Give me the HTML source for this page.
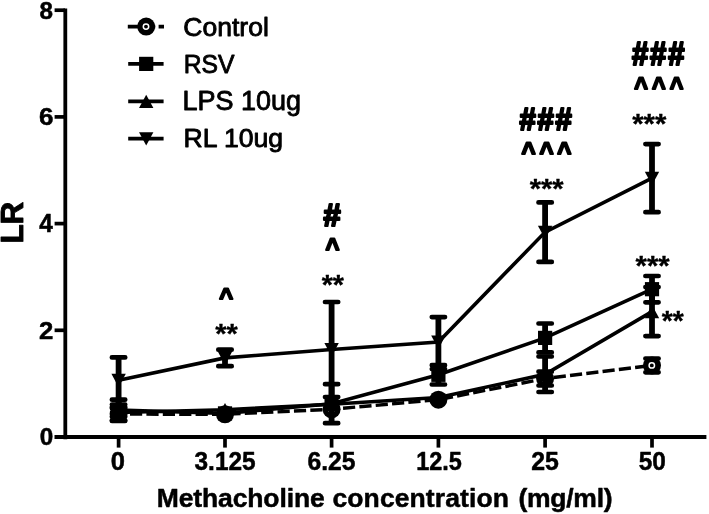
<!DOCTYPE html>
<html><head><meta charset="utf-8"><title>LR vs Methacholine concentration</title>
<style>
html,body{margin:0;padding:0;background:#fff;}
body{width:709px;height:514px;overflow:hidden;}
svg{display:block;}
text{font-family:"Liberation Sans",Arial,Helvetica,sans-serif;fill:#000;stroke-linejoin:round;}
</style></head><body>
<svg width="709" height="514" viewBox="0 0 709 514">
<defs><filter id="soft" x="0" y="0" width="709" height="514" filterUnits="userSpaceOnUse"><feGaussianBlur stdDeviation="0.45"/></filter></defs>
<rect width="709" height="514" fill="#fff"/>
<g filter="url(#soft)">
<rect width="709" height="514" fill="#fff"/>
<g id="axes">
<path d="M65.3 8.4V439.2" stroke="#000" stroke-width="3.8" fill="none"/>
<path d="M54.5 437H706.4" stroke="#000" stroke-width="3.8" fill="none"/>
<path d="M54.6 330.3H65" stroke="#000" stroke-width="3.7" fill="none"/>
<path d="M54.6 223.6H65" stroke="#000" stroke-width="3.7" fill="none"/>
<path d="M54.6 116.9H65" stroke="#000" stroke-width="3.7" fill="none"/>
<path d="M54.6 10.2H65" stroke="#000" stroke-width="3.7" fill="none"/>
<path d="M118.6 437V447.6" stroke="#000" stroke-width="3.7" fill="none"/>
<path d="M225.0 437V447.6" stroke="#000" stroke-width="3.7" fill="none"/>
<path d="M331.6 437V447.6" stroke="#000" stroke-width="3.7" fill="none"/>
<path d="M438.4 437V447.6" stroke="#000" stroke-width="3.7" fill="none"/>
<path d="M545.1 437V447.6" stroke="#000" stroke-width="3.7" fill="none"/>
<path d="M652.0 437V447.6" stroke="#000" stroke-width="3.7" fill="none"/>
</g>
<g id="data">
<path d="M118.6 414.1 L225.0 414.3 L331.6 409.3 L438.4 399.7 L545.1 378.6 L652.0 365.4" stroke="#000" stroke-width="3.4" fill="none" stroke-dasharray="12.2 4.2" stroke-dashoffset="5"/>
<path d="M118.6 407.1V421.0" stroke="#000" stroke-width="5.8" fill="none"/><path d="M111.9 407.1H125.2M111.9 421.0H125.2" stroke="#000" stroke-width="4.7" stroke-linecap="round" fill="none"/>
<path d="M545.1 371.7V385.5" stroke="#000" stroke-width="5.8" fill="none"/><path d="M538.5 371.7H551.8M538.5 385.5H551.8" stroke="#000" stroke-width="4.7" stroke-linecap="round" fill="none"/>
<path d="M652.0 358.5V372.3" stroke="#000" stroke-width="5.8" fill="none"/><path d="M645.4 358.5H658.6M645.4 372.3H658.6" stroke="#000" stroke-width="4.7" stroke-linecap="round" fill="none"/>
<circle cx="118.6" cy="414.1" r="9" fill="#000"/><circle cx="118.4" cy="414.1" r="2.7" fill="#000" stroke="#fff" stroke-width="1.5"/>
<circle cx="225.0" cy="414.3" r="9" fill="#000"/><circle cx="224.8" cy="414.3" r="2.7" fill="#000" stroke="#fff" stroke-width="1.5"/>
<circle cx="331.6" cy="409.3" r="9" fill="#000"/><circle cx="331.4" cy="409.3" r="2.7" fill="#000" stroke="#fff" stroke-width="1.5"/>
<circle cx="438.4" cy="399.7" r="9" fill="#000"/><circle cx="438.2" cy="399.7" r="2.7" fill="#000" stroke="#fff" stroke-width="1.5"/>
<circle cx="545.1" cy="378.6" r="9" fill="#000"/><circle cx="544.9" cy="378.6" r="2.7" fill="#000" stroke="#fff" stroke-width="1.5"/>
<circle cx="652.0" cy="365.4" r="9" fill="#000"/><circle cx="651.8" cy="365.4" r="2.7" fill="#000" stroke="#fff" stroke-width="1.5"/>
<path d="M118.6 412.5 L225.0 409.7 L331.6 404.2 L438.4 397.5 L545.1 374.3 L652.0 311.6" stroke="#000" stroke-width="3.6" fill="none"/>
<path d="M118.6 408.2V416.7" stroke="#000" stroke-width="5.8" fill="none"/><path d="M111.9 408.2H125.2M111.9 416.7H125.2" stroke="#000" stroke-width="4.7" stroke-linecap="round" fill="none"/>
<path d="M545.1 356.5V392.0" stroke="#000" stroke-width="5.8" fill="none"/><path d="M538.5 356.5H551.8M538.5 392.0H551.8" stroke="#000" stroke-width="4.7" stroke-linecap="round" fill="none"/>
<path d="M652.0 287.1V336.1" stroke="#000" stroke-width="5.8" fill="none"/><path d="M645.4 287.1H658.6M645.4 336.1H658.6" stroke="#000" stroke-width="4.7" stroke-linecap="round" fill="none"/>
<polygon points="111.4,419.2 125.8,419.2 118.6,405.8" fill="#000"/>
<polygon points="217.8,416.4 232.2,416.4 225.0,403.0" fill="#000"/>
<polygon points="324.4,410.9 338.8,410.9 331.6,397.5" fill="#000"/>
<polygon points="431.2,404.2 445.6,404.2 438.4,390.8" fill="#000"/>
<polygon points="537.9,381.0 552.3,381.0 545.1,367.6" fill="#000"/>
<polygon points="644.8,318.3 659.2,318.3 652.0,304.9" fill="#000"/>
<path d="M118.6 410.0 L225.0 413.4 L331.6 403.7 L438.4 374.8 L545.1 337.9 L652.0 289.2" stroke="#000" stroke-width="3.6" fill="none"/>
<path d="M118.6 399.7V420.3" stroke="#000" stroke-width="5.8" fill="none"/><path d="M111.9 399.7H125.2M111.9 420.3H125.2" stroke="#000" stroke-width="4.7" stroke-linecap="round" fill="none"/>
<path d="M331.6 384.2V423.2" stroke="#000" stroke-width="5.8" fill="none"/><path d="M325.0 384.2H338.2M325.0 423.2H338.2" stroke="#000" stroke-width="4.7" stroke-linecap="round" fill="none"/>
<path d="M438.4 365.2V384.5" stroke="#000" stroke-width="5.8" fill="none"/><path d="M431.8 365.2H445.0M431.8 384.5H445.0" stroke="#000" stroke-width="4.7" stroke-linecap="round" fill="none"/>
<path d="M545.1 323.5V352.4" stroke="#000" stroke-width="5.8" fill="none"/><path d="M538.5 323.5H551.8M538.5 352.4H551.8" stroke="#000" stroke-width="4.7" stroke-linecap="round" fill="none"/>
<path d="M652.0 276.0V302.3" stroke="#000" stroke-width="5.8" fill="none"/><path d="M645.4 276.0H658.6M645.4 302.3H658.6" stroke="#000" stroke-width="4.7" stroke-linecap="round" fill="none"/>
<rect x="111.5" y="402.9" width="14.2" height="14.2" fill="#000"/>
<rect x="217.9" y="406.3" width="14.2" height="14.2" fill="#000"/>
<rect x="324.5" y="396.6" width="14.2" height="14.2" fill="#000"/>
<rect x="431.3" y="367.7" width="14.2" height="14.2" fill="#000"/>
<rect x="538.0" y="330.8" width="14.2" height="14.2" fill="#000"/>
<rect x="644.9" y="282.1" width="14.2" height="14.2" fill="#000"/>
<path d="M118.6 380.2 L225.0 357.9 L331.6 349.5 L438.4 342.0 L545.1 232.1 L652.0 178.1" stroke="#000" stroke-width="3.6" fill="none"/>
<path d="M118.6 357.4V404.6" stroke="#000" stroke-width="5.8" fill="none"/><path d="M111.9 357.4H125.2M111.9 404.6H125.2" stroke="#000" stroke-width="4.7" stroke-linecap="round" fill="none"/>
<path d="M225.0 349.7V366.2" stroke="#000" stroke-width="5.8" fill="none"/><path d="M218.3 349.7H231.7M218.3 366.2H231.7" stroke="#000" stroke-width="4.7" stroke-linecap="round" fill="none"/>
<path d="M331.6 302.0V397.0" stroke="#000" stroke-width="5.8" fill="none"/><path d="M325.0 302.0H338.2M325.0 397.0H338.2" stroke="#000" stroke-width="4.7" stroke-linecap="round" fill="none"/>
<path d="M438.4 317.1V369.0" stroke="#000" stroke-width="5.8" fill="none"/><path d="M431.8 317.1H445.0M431.8 369.0H445.0" stroke="#000" stroke-width="4.7" stroke-linecap="round" fill="none"/>
<path d="M545.1 202.4V261.9" stroke="#000" stroke-width="5.8" fill="none"/><path d="M538.5 202.4H551.8M538.5 261.9H551.8" stroke="#000" stroke-width="4.7" stroke-linecap="round" fill="none"/>
<path d="M652.0 144.1V212.2" stroke="#000" stroke-width="5.8" fill="none"/><path d="M645.4 144.1H658.6M645.4 212.2H658.6" stroke="#000" stroke-width="4.7" stroke-linecap="round" fill="none"/>
<polygon points="111.4,373.8 125.8,373.8 118.6,387.2" fill="#000"/>
<polygon points="217.8,351.5 232.2,351.5 225.0,364.9" fill="#000"/>
<polygon points="324.4,343.1 338.8,343.1 331.6,356.5" fill="#000"/>
<polygon points="431.2,335.6 445.6,335.6 438.4,349.0" fill="#000"/>
<polygon points="537.9,225.7 552.3,225.7 545.1,239.1" fill="#000"/>
<polygon points="644.8,171.7 659.2,171.7 652.0,185.1" fill="#000"/>
</g>
<g id="labels">
<text transform="translate(39.42 18.51) scale(1.0048 1)" style="font-size:24.08px;font-weight:bold;stroke:#000;stroke-width:0.5px">8</text>
<text transform="translate(39.11 124.80) scale(1.0626 1)" style="font-size:24.51px;font-weight:bold;stroke:#000;stroke-width:0.5px">6</text>
<text transform="translate(39.26 232.05) scale(0.9652 1)" style="font-size:25.22px;font-weight:bold;stroke:#000;stroke-width:0.5px">4</text>
<text transform="translate(39.08 338.55) scale(1.0651 1)" style="font-size:24.14px;font-weight:bold;stroke:#000;stroke-width:0.5px">2</text>
<text transform="translate(39.68 444.71) scale(1.0190 1)" style="font-size:23.80px;font-weight:bold;stroke:#000;stroke-width:0.5px">0</text>
<text transform="translate(110.73 470.30) scale(1.0242 1)" style="font-size:24.93px;font-weight:bold;stroke:#000;stroke-width:0.5px">0</text>
<text transform="translate(194.56 470.30) scale(0.9784 1)" style="font-size:24.93px;font-weight:bold;stroke:#000;stroke-width:0.5px">3.125</text>
<text transform="translate(307.46 470.30) scale(0.9900 1)" style="font-size:24.93px;font-weight:bold;stroke:#000;stroke-width:0.5px">6.25</text>
<text transform="translate(416.14 470.30) scale(0.9424 1)" style="font-size:24.93px;font-weight:bold;stroke:#000;stroke-width:0.5px">12.5</text>
<text transform="translate(531.30 470.30) scale(0.9971 1)" style="font-size:24.93px;font-weight:bold;stroke:#000;stroke-width:0.5px">25</text>
<text transform="translate(638.72 470.30) scale(0.9797 1)" style="font-size:24.93px;font-weight:bold;stroke:#000;stroke-width:0.5px">50</text>
<text y="507.2" style="font-size:26.5px;font-weight:bold;stroke:#000;stroke-width:0.5px"><tspan x="156.70" style="letter-spacing:-0.12px">Methacholine</tspan> <tspan x="332.49" style="letter-spacing:0.1px">concentration</tspan> <tspan x="518.42" style="letter-spacing:-0.25px">(mg/ml)</tspan></text>
<text transform="translate(23.25 243.55) rotate(-90) scale(1.0115 1)" style="font-size:31.01px;font-weight:bold;stroke:#000;stroke-width:0.9px">LR</text>
</g>
<g id="legend">
<path d="M127.8 26.6H164" stroke="#000" stroke-width="3.7" stroke-dasharray="12 3.4" fill="none"/>
<circle cx="146.2" cy="26.6" r="9" fill="#000"/><circle cx="146.0" cy="26.6" r="2.7" fill="#000" stroke="#fff" stroke-width="1.5"/>
<text transform="translate(183.30 35.61) scale(0.9996 1)" style="font-size:26.55px;font-weight:normal;stroke:#000;stroke-width:0.85px">Control</text>
<path d="M128.2 63.9H163.6" stroke="#000" stroke-width="3.9" fill="none"/>
<rect x="139.1" y="56.8" width="14.2" height="14.2" fill="#000"/>
<text transform="translate(183.65 72.51) scale(0.9321 1)" style="font-size:26.55px;font-weight:normal;stroke:#000;stroke-width:0.85px">RSV</text>
<path d="M128.2 101.4H163.6" stroke="#000" stroke-width="3.9" fill="none"/>
<polygon points="139.0,108.1 153.4,108.1 146.2,94.7" fill="#000"/>
<text transform="translate(182.46 110.37) scale(0.9778 1)" style="font-size:27.64px;font-weight:normal;stroke:#000;stroke-width:0.85px">LPS 10ug</text>
<path d="M128.2 138.6H163.6" stroke="#000" stroke-width="3.9" fill="none"/>
<polygon points="139.0,132.2 153.4,132.2 146.2,145.6" fill="#000"/>
<text transform="translate(183.50 146.51) scale(1.0410 1)" style="font-size:25.55px;font-weight:normal;stroke:#000;stroke-width:0.85px">RL 10ug</text>
</g>
<g id="annot">
<text transform="translate(219.13 304.89) scale(0.9568 1)" style="font-size:24.77px;font-weight:bold;stroke:#000;stroke-width:2.0px">^</text>
<text transform="translate(215.35 342.96) scale(1.0459 1)" style="font-size:27.70px;font-weight:bold;stroke:#000;stroke-width:0.3px">**</text>
<text transform="translate(323.38 225.61) scale(0.9911 1)" style="font-size:31.04px;font-weight:bold;stroke:#000;stroke-width:2.2px">#</text>
<text transform="translate(325.52 257.28) scale(0.9220 1)" style="font-size:25.91px;font-weight:bold;stroke:#000;stroke-width:2.0px">^</text>
<text transform="translate(321.65 293.71) scale(1.0733 1)" style="font-size:26.76px;font-weight:bold;stroke:#000;stroke-width:0.3px">**</text>
<text transform="translate(519.62 130.11) scale(0.9282 1)" style="font-size:31.49px;font-weight:bold;letter-spacing:1.86px;stroke:#000;stroke-width:2.2px">###</text>
<text transform="translate(521.62 161.01) scale(0.9543 1)" style="font-size:25.23px;font-weight:bold;letter-spacing:3.95px;stroke:#000;stroke-width:2.0px">^^^</text>
<text transform="translate(529.75 197.89) scale(1.0643 1)" style="font-size:27.30px;font-weight:bold;stroke:#000;stroke-width:0.3px">***</text>
<text transform="translate(631.92 65.12) scale(0.9025 1)" style="font-size:32.39px;font-weight:bold;letter-spacing:2.14px;stroke:#000;stroke-width:2.2px">###</text>
<text transform="translate(634.28 95.88) scale(0.9006 1)" style="font-size:25.91px;font-weight:bold;letter-spacing:4.58px;stroke:#000;stroke-width:2.0px">^^^</text>
<text transform="translate(632.25 132.89) scale(1.0706 1)" style="font-size:27.30px;font-weight:bold;stroke:#000;stroke-width:0.3px">***</text>
<text transform="translate(635.55 275.06) scale(1.0498 1)" style="font-size:27.84px;font-weight:bold;stroke:#000;stroke-width:0.3px">***</text>
<text transform="translate(661.65 329.57) scale(1.0278 1)" style="font-size:27.57px;font-weight:bold;stroke:#000;stroke-width:0.3px">**</text>
</g>
</g>
</svg>
</body></html>
